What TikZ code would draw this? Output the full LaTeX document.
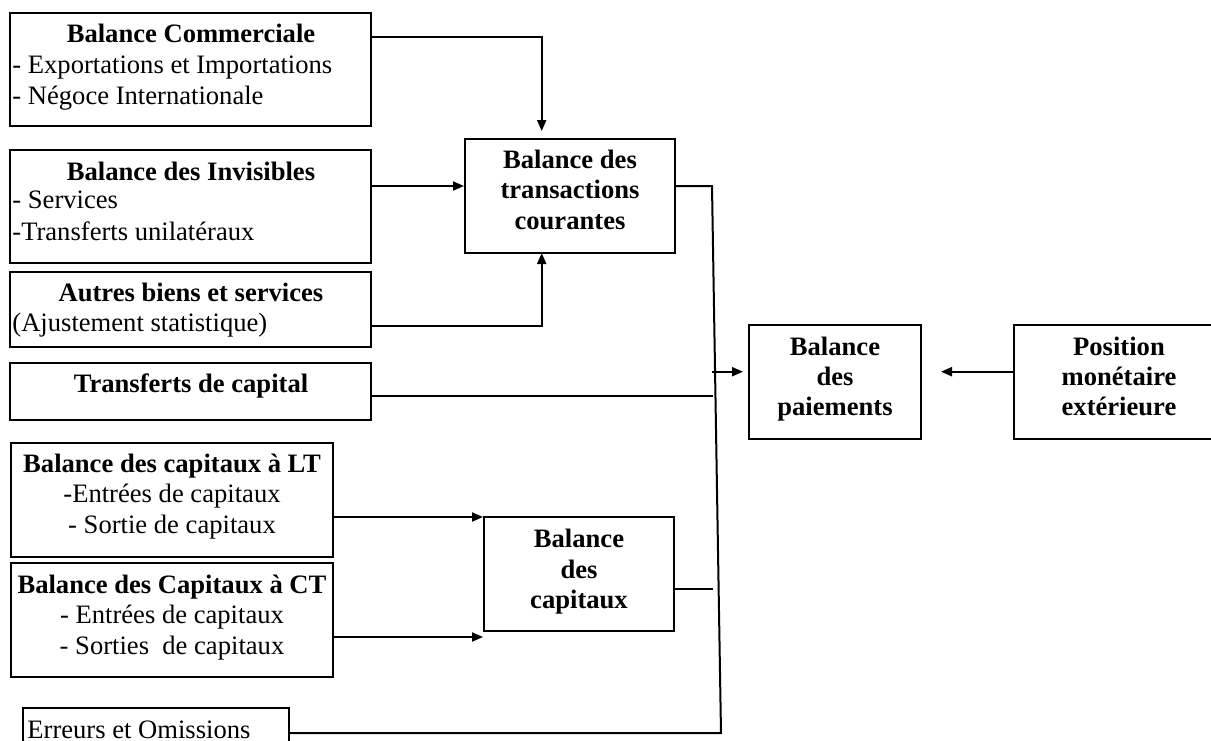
\documentclass[tikz,border=0pt]{standalone}
\usepackage{fontspec}
\setmainfont{Liberation Serif}
\usetikzlibrary{arrows.meta,fit,calc}
\begin{document}
\begin{tikzpicture}[x=0.5pt,y=-0.5pt,
  box/.style={draw,line width=1pt,inner sep=0pt},
  txt/.style={inner sep=0pt,anchor=base,font=\fontsize{13.3}{15.5}\selectfont},
  txl/.style={txt,anchor=base west},
  ttl/.style={txt,font=\fontsize{13.3}{15.5}\selectfont\bfseries},
  ln/.style={line width=1pt},
  arr/.style={ln,-{Triangle[length=5.5pt,width=4.5pt]}}]
\useasboundingbox (0,0) rectangle (1211,740);
\clip (0,0) rectangle (1211,740);
% boxes
\node[box,fit={(10,13) (371,126)}] (bc) {};
\node[box,fit={(10,150) (371,263)}] (bi) {};
\node[box,fit={(10,272) (371,347)}] (ab) {};
\node[box,fit={(10,363) (371,420)}] (tc) {};
\node[box,fit={(11,443) (333,557)}] (lt) {};
\node[box,fit={(11,563) (333,677)}] (ct) {};
\node[box,fit={(23,708) (289,770)}] (eo) {};
\node[box,fit={(465,139) (675,253)}] (btc) {};
\node[box,fit={(484,517) (674,631)}] (bdc) {};
\node[box,fit={(749,325) (921,439)}] (bdp) {};
\node[box,fit={(1014,325) (1224,439)}] (pme) {};
% texts
\node[ttl] (t1) at (191,42) {Balance Commerciale};
\node[txl] (t1a) at (12,73) {- Exportations et Importations};
\node[txl] (t1b) at (12,104) {- Négoce Internationale};
\node[ttl] (t2) at (191,180) {Balance des Invisibles};
\node[txl] (t2a) at (12,208) {- Services};
\node[txl] (t2b) at (12,240) {-Transferts unilatéraux};
\node[ttl] (t3) at (191,301) {Autres biens et services};
\node[txl] (t3a) at (12,331) {(Ajustement statistique)};
\node[ttl] (t4) at (191,392) {Transferts de capital};
\node[ttl] (t5) at (172,472) {Balance des capitaux à LT};
\node[txt] (t5a) at (172,502) {-Entrées de capitaux};
\node[txt] (t5b) at (172,533) {- Sortie de capitaux};
\node[ttl] (t6) at (172,593) {Balance des Capitaux à CT};
\node[txt] (t6a) at (172,623) {- Entrées de capitaux};
\node[txt] (t6b) at (172,654) {- Sorties\ \ de capitaux};
\node[txl] (t7) at (27,738) {Erreurs et Omissions};
\node[ttl] (t8) at (570,168) {Balance des};
\node[ttl] (t8a) at (570,198.5) {transactions};
\node[ttl] (t8b) at (570,229) {courantes};
\node[ttl] (t9) at (579,547) {Balance};
\node[ttl] (t9a) at (579,578) {des};
\node[ttl] (t9b) at (579,608) {capitaux};
\node[ttl] (t10) at (835,355) {Balance};
\node[ttl] (t10a) at (835,385) {des};
\node[ttl] (t10b) at (835,415) {paiements};
\node[ttl] (t11) at (1119,355) {Position};
\node[ttl] (t11a) at (1119,385) {monétaire};
\node[ttl] (t11b) at (1119,415) {extérieure};
% connector points
\coordinate (vt) at (712,186);
\coordinate (vb) at (721,733);
\coordinate (bcout) at (bc.east |- 0,37);
\coordinate (bcturn) at (541.7,37);
\coordinate (btcin) at (541.7,139);
\coordinate (btcbot) at (541.7,253);
\coordinate (about) at (ab.east |- 0,325.7);
\coordinate (biout) at (bi.east |- 0,186);
\coordinate (btcout) at (btc.east |- 0,186);
\coordinate (tcout) at (tc.east |- 0,396);
\coordinate (tcend) at (712.7,396);
\coordinate (bus) at (712,371.7);
\coordinate (pmeout) at (pme.west |- 0,371.7);
\coordinate (ltout) at (lt.east |- 0,517);
\coordinate (ctout) at (ct.east |- 0,637);
\coordinate (bdcout) at (bdc.east |- 0,589);
\coordinate (bdcend) at (712.7,589);
\coordinate (eoout) at (eo.east |- 0,733);
% connectors
\draw[arr,shorten >=4pt] (bcout) -- (bcturn) -- (btcin);
\draw[arr] (biout) -- (btc.west |- biout);
\draw[arr] (about) -| (btcbot);
\draw[ln] (btcout) -- (vt) -- (vb) -- (eoout);
\draw[ln] (tcout) -- (tcend);
\draw[arr,shorten >=2.5pt] (bus) -- (bdp.west |- bus);
\draw[arr,shorten >=9.5pt] (pmeout) -- (bdp.east |- pmeout);
\draw[arr] (ltout) -- (bdc.west |- ltout);
\draw[arr] (ctout) -- (bdc.west |- ctout);
\draw[ln] (bdcout) -- (bdcend);
\end{tikzpicture}
\end{document}
